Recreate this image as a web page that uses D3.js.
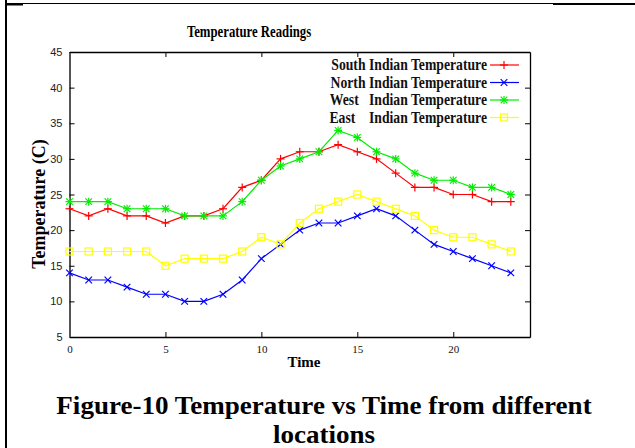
<!DOCTYPE html>
<html><head><meta charset="utf-8">
<script src="https://cdn.jsdelivr.net/npm/d3@7"></script>
<style>
html,body{margin:0;padding:0;background:#fff;}
svg{display:block;}
text{white-space:pre;}
</style></head>
<body>
<script>
const hours = d3.range(0, 24);
const southTemp = [23,22,23,22,22,21,22,22,23,26,27,30,31,31,32,31,30,28,26,26,25,25,24,24];
const northTemp = [14,13,13,12,11,11,10,10,11,13,16,18,20,21,21,22,23,22,20,18,17,16,15,14];
const westTemp  = [24,24,24,23,23,23,22,22,22,24,27,29,30,31,34,33,31,30,28,27,27,26,26,25];
const eastTemp  = [17,17,17,17,17,15,16,16,16,17,19,18,21,23,24,25,24,23,22,20,19,19,18,17];
const seriesNames = ["South Indian Temperature","North Indian Temperature","West   Indian Temperature","East    Indian Temperature"];
const seriesColors = ["#ff0000","#0000ff","#00ee00","#ffff00"];
const seriesMarkers = ["plus","cross","star","square"];
const xTicks = [0,5,10,15,20];
const yTicks = [5,10,15,20,25,30,35,40,45];

const W = 635, H = 448;
const svg = d3.select("body").append("svg").attr("width", W).attr("height", H);

// page decorations
svg.append("line").attr("x1",6).attr("x2",6).attr("y1",0).attr("y2",H).attr("stroke","#000").attr("stroke-width",2);
svg.append("line").attr("x1",5).attr("x2",553).attr("y1",3.5).attr("y2",3.5).attr("stroke","#000").attr("stroke-width",1);
svg.append("line").attr("x1",553).attr("x2",635).attr("y1",4).attr("y2",4).attr("stroke","#000").attr("stroke-width",2);
svg.append("line").attr("x1",6).attr("x2",23).attr("y1",4.5).attr("y2",4.5).attr("stroke","#000").attr("stroke-width",2);

const x = d3.scaleLinear().domain([0,24]).range([69.5,530]);
const y = d3.scaleLinear().domain([5,45]).range([337,52]);

const serif = "'Liberation Serif','Times New Roman',serif";
const sans = "'Liberation Sans',Arial,sans-serif";

// title
svg.append("text").attr("transform","translate(249,37) scale(0.75,1)").attr("text-anchor","middle")
  .attr("font-family",serif).attr("font-weight","bold").attr("font-size",17).text("Temperature Readings");

// axes
const gx = svg.append("g").attr("transform",`translate(0,${y(5)})`)
  .call(d3.axisBottom(x).tickValues(xTicks).tickSizeInner(-5).tickSizeOuter(0).tickPadding(8));
const gxt = svg.append("g").attr("transform",`translate(0,${y(45)})`)
  .call(d3.axisTop(x).tickValues(xTicks).tickSizeInner(-5).tickSizeOuter(0).tickFormat(""));
const gy = svg.append("g").attr("transform",`translate(${x(0)},0)`)
  .call(d3.axisLeft(y).tickValues(yTicks).tickSizeInner(-5).tickSizeOuter(0).tickPadding(7));
const gyr = svg.append("g").attr("transform",`translate(${x(24)},0)`)
  .call(d3.axisRight(y).tickValues(yTicks).tickSizeInner(-5).tickSizeOuter(0).tickFormat(""));
[gx,gxt,gy,gyr].forEach(g=>{
  g.select(".domain").attr("stroke","#000").attr("stroke-width",1.3);
  g.selectAll(".tick line").attr("stroke","#000").attr("stroke-width",1);
});
gx.selectAll(".tick text").attr("font-family",serif).attr("font-size",11).attr("fill","#111");
gy.selectAll(".tick text").attr("font-family",sans).attr("font-size",11).attr("fill","#222");
gy.select(".domain").attr("stroke","#555").attr("stroke-width",2);

// axis labels
svg.append("text").attr("x",304).attr("y",367).attr("text-anchor","middle")
  .attr("font-family",serif).attr("font-weight","bold").attr("font-size",15).text("Time");
svg.append("text").attr("transform",`translate(45,204) rotate(-90)`).attr("text-anchor","middle")
  .attr("font-family",serif).attr("font-weight","bold").attr("font-size",18).text("Temperature (C)");

// markers
function drawMarker(g, type, cx, cy, color){
  const s = 4;
  if(type==="plus"||type==="star"){
    g.append("line").attr("x1",cx-s).attr("x2",cx+s).attr("y1",cy).attr("y2",cy).attr("stroke",color);
    g.append("line").attr("x1",cx).attr("x2",cx).attr("y1",cy-s).attr("y2",cy+s).attr("stroke",color);
  }
  if(type==="cross"||type==="star"){
    const c = 3.3;
    g.append("line").attr("x1",cx-c).attr("x2",cx+c).attr("y1",cy-c).attr("y2",cy+c).attr("stroke",color);
    g.append("line").attr("x1",cx-c).attr("x2",cx+c).attr("y1",cy+c).attr("y2",cy-c).attr("stroke",color);
  }
  if(type==="square"){
    g.append("rect").attr("x",cx-3.5).attr("y",cy-3.5).attr("width",7).attr("height",7)
      .attr("fill","none").attr("stroke",color);
  }
}

const allSeries = [southTemp, northTemp, westTemp, eastTemp];
const line = d3.line().x((d,i)=>x(hours[i])).y(d=>y(d));
allSeries.forEach((vals,k)=>{
  const g = svg.append("g");
  g.append("path").attr("d",line(vals)).attr("fill","none").attr("stroke",seriesColors[k]).attr("stroke-width",1.2);
  const mg = g.append("g").attr("stroke-width",1.2);
  vals.forEach((v,i)=>drawMarker(mg, seriesMarkers[k], x(hours[i]), y(v), seriesColors[k]));
});

// legend
const legY = [65, 82.5, 100, 117.5];
seriesNames.forEach((name,k)=>{
  const g = svg.append("g");
  g.append("text").attr("transform",`translate(487,${legY[k]+5}) scale(0.83,1)`).attr("text-anchor","end")
    .attr("font-family",serif).attr("font-weight","bold").attr("font-size",16.5).attr("fill","#111")
    .attr("xml:space","preserve").text(name);
  g.append("line").attr("x1",490).attr("x2",519).attr("y1",legY[k]).attr("y2",legY[k])
    .attr("stroke",seriesColors[k]).attr("stroke-width",1.2);
  const mg = g.append("g").attr("stroke-width",1.2);
  drawMarker(mg, seriesMarkers[k], 504, legY[k], seriesColors[k]);
});

// caption
svg.append("text").attr("transform","translate(324,414) scale(1.04,1)").attr("text-anchor","middle")
  .attr("font-family",serif).attr("font-weight","bold").attr("font-size",26).text("Figure-10 Temperature vs Time from different");
svg.append("text").attr("transform","translate(324,442.5) scale(1.04,1)").attr("text-anchor","middle")
  .attr("font-family",serif).attr("font-weight","bold").attr("font-size",26).text("locations");
</script>
</body></html>
